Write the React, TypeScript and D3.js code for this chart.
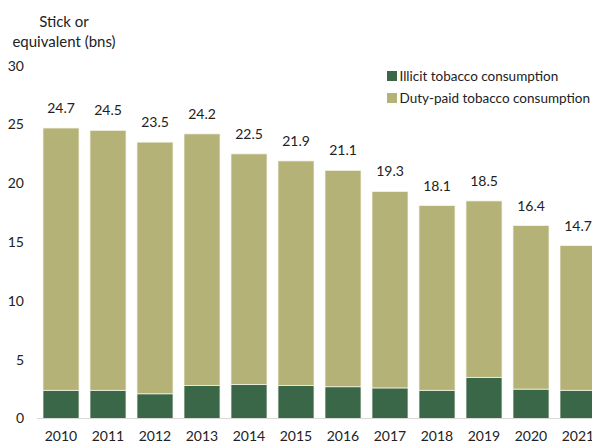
import React from "react";
import * as d3 from "d3";

const years = ["2010","2011","2012","2013","2014","2015","2016","2017","2018","2019","2020","2021"];
const totals = [24.7,24.5,23.5,24.2,22.5,21.9,21.1,19.3,18.1,18.5,16.4,14.7];
const illicit = [2.4,2.4,2.1,2.8,2.9,2.8,2.7,2.6,2.4,3.5,2.5,2.4];
const dutyPaid = totals.map((t, i) => +(t - illicit[i]).toFixed(1));
const yTicks = [0,5,10,15,20,25,30];
const seriesNames = ["Illicit tobacco consumption","Duty-paid tobacco consumption"];
const colors = ["#3B6749","#B4B277"];

const W = 592, H = 443;
const FONT = "Lato, 'Open Sans', sans-serif";

export default function App() {
  const x = d3.scaleBand<string>().domain(years).range([43 - 5.5, 43 - 5.5 + 47 * 12]).paddingInner(11 / 47).paddingOuter(0);
  const y = d3.scaleLinear().domain([0, 30]).range([418.5, 65.7]);
  const rows = years.map((yr, i) => ({ year: yr, illicit: illicit[i], duty: dutyPaid[i] }));
  const stack = d3.stack<any>().keys(["illicit", "duty"])(rows);
  const bw = 36;
  const cx = (yr: string) => 43 + years.indexOf(yr) * 47 + bw / 2;

  return (
    <svg width={W} height={H} style={{ position: "absolute", left: 0, top: 0, background: "#fff" }} fontFamily={FONT}>
      <text x={64} y={27} textAnchor="middle" fontSize={15} fill="#222">Stick or</text>
      <text x={64} y={47} textAnchor="middle" fontSize={15} fill="#222">equivalent (bns)</text>
      {yTicks.map(t => (
        <text key={t} x={24} y={y(t)} dy="0.35em" textAnchor="end" fontSize={14} fill="#222">{t}</text>
      ))}
      {stack.map((s, si) => (
        <g key={si}>
          {s.map((d, i) => (
            <rect key={i} x={cx(years[i]) - bw / 2} y={y(d[1])} width={bw} height={y(d[0]) - y(d[1])}
              fill={colors[si]} stroke="#f4f4ea" strokeWidth={0.75} />
          ))}
        </g>
      ))}
      <line x1={37} x2={W} y1={418.5} y2={418.5} stroke="#d9d9d9" strokeWidth={1} />
      {years.map((yr, i) => (
        <text key={yr} x={cx(yr)} y={y(totals[i]) - 20} dy="0.35em" textAnchor="middle" fontSize={14} fill="#222">{totals[i].toFixed(1)}</text>
      ))}
      {years.map(yr => (
        <text key={yr} x={cx(yr)} y={436} dy="0.35em" textAnchor="middle" fontSize={14} fill="#222">{yr}</text>
      ))}
      {seriesNames.map((n, i) => (
        <g key={n} transform={`translate(387, ${76 + i * 22})`}>
          <rect x={0} y={-5} width={10} height={10} fill={colors[i]} />
          <text x={12.5} y={0} dy="0.35em" fontSize={13.5} fill="#222">{n}</text>
        </g>
      ))}
    </svg>
  );
}
